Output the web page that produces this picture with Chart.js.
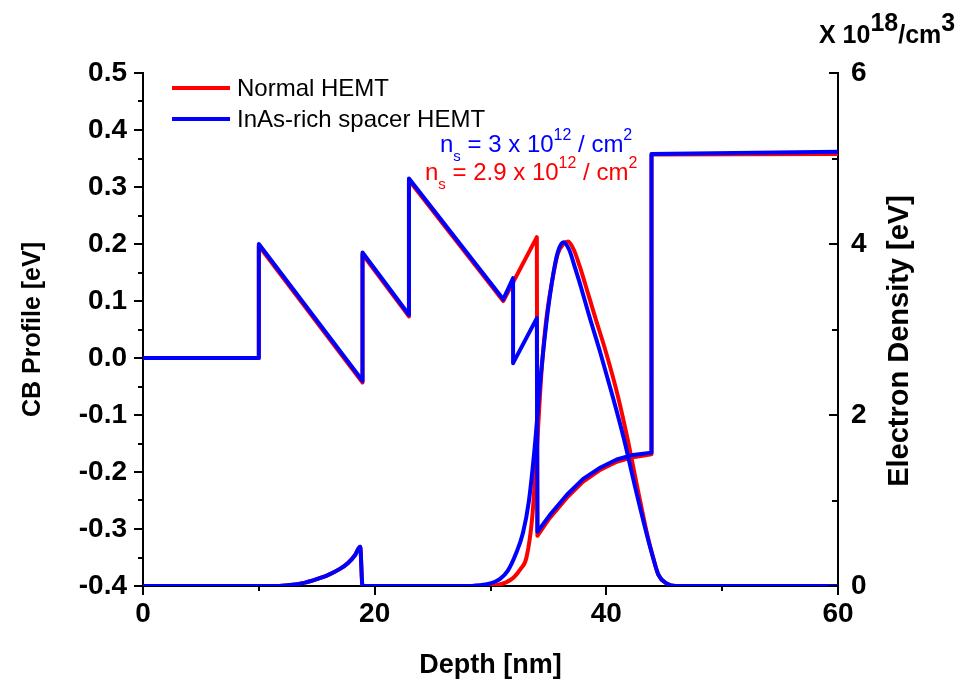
<!DOCTYPE html>
<html>
<head>
<meta charset="utf-8">
<title>CB profile and electron density</title>
<script src="https://cdn.jsdelivr.net/npm/chart.js@4.4.1/dist/chart.umd.min.js"></script>
<style>
  body { margin: 0; background: #fff; }
  #wrap { width: 960px; height: 683px; position: relative; }
</style>
</head>
<body>
<div id="wrap"><canvas id="bandChart"></canvas></div>
<script>
// --- Conduction band edge [eV], left axis ---
const cbDepthNormal = [0, 10, 10, 18.95, 18.95, 22.96, 22.96, 31.1, 34.0, 34.05, 35.1, 36.6, 38.0, 39.5, 40.9, 42.3, 43.9, 43.9, 60];
const cbNormal      = [0, 0, 0.197, -0.043, 0.182, 0.073, 0.312, 0.100, 0.212, -0.312, -0.281, -0.245, -0.217, -0.196, -0.182, -0.174, -0.169, 0.357, 0.358];

const cbDepthInAs = [0, 10, 10, 18.95, 18.95, 22.96, 22.96, 31.1, 31.95, 31.95, 34.0, 34.05, 35.1, 36.6, 38.0, 39.5, 40.9, 42.3, 43.9, 43.9, 60];
const cbInAs      = [0, 0, 0.2, -0.04, 0.185, 0.076, 0.315, 0.103, 0.14, -0.009, 0.07, -0.305, -0.276, -0.240, -0.212, -0.192, -0.178, -0.170, -0.166, 0.358, 0.362];

// --- Electron density [x 10^18 / cm^3], right axis ---
const nDepthNormal = [0, 11, 12.5, 14, 15, 16, 17, 17.7, 18.3, 18.75, 18.95,
    29.5, 30.5, 31.3, 32.0, 32.6, 33.1, 33.6, 34.0, 34.4, 34.8, 35.3, 35.8, 36.3, 36.7,
    37.2, 37.7, 38.2, 39.0, 40.0, 41.0, 41.8, 42.7, 43.5, 44.0, 44.5, 45.2, 46.0, 60];
const nNormal      = [0, 0, 0.01, 0.04, 0.08, 0.13, 0.2, 0.27, 0.36, 0.46, 0,
    0, 0.01, 0.04, 0.1, 0.2, 0.33, 0.8, 1.6, 2.5, 3.1, 3.55, 3.88, 4.0, 4.03,
    3.93, 3.74, 3.52, 3.16, 2.72, 2.22, 1.74, 1.14, 0.62, 0.35, 0.13, 0.03, 0, 0];

const nDepthInAs = [0, 11, 12.5, 14, 15, 16, 17, 17.7, 18.3, 18.75, 18.95,
    28.0, 29.0, 30.0, 30.8, 31.5, 32.2, 32.8, 33.3, 33.8, 34.3, 34.8, 35.3, 35.8, 36.3,
    36.8, 37.3, 37.8, 38.5, 39.5, 40.5, 41.5, 42.5, 43.5, 44.0, 44.5, 45.2, 46.0, 60];
const nInAs      = [0, 0, 0.01, 0.04, 0.08, 0.13, 0.2, 0.27, 0.36, 0.46, 0,
    0, 0.01, 0.03, 0.08, 0.18, 0.38, 0.62, 0.98, 1.6, 2.4, 3.05, 3.55, 3.9, 4.02,
    3.93, 3.72, 3.5, 3.17, 2.72, 2.24, 1.73, 1.15, 0.6, 0.35, 0.13, 0.03, 0, 0];

const seriesNames = ['Normal HEMT', 'InAs-rich spacer HEMT'];

const RED = '#ff0000';
const BLUE = '#0000ff';
const FAMILY = '"Liberation Sans", Arial, Helvetica, sans-serif';

const toPoints = (xs, ys) => xs.map((x, i) => ({ x: x, y: ys[i] }));

// draws a row of text pieces (for sub/superscripts) starting at x, baseline y
function drawRuns(ctx, x, y, runs, color, weight) {
    ctx.fillStyle = color;
    ctx.textAlign = 'left';
    ctx.textBaseline = 'alphabetic';
    runs.forEach(r => {
        ctx.font = `${weight} ${r.size}px ${FAMILY}`;
        ctx.fillText(r.text, x, y + (r.dy || 0));
        x += ctx.measureText(r.text).width;
    });
}

// tick marks, legend and the text labels that chart.js can't place itself
const axisDecor = {
    id: 'axisDecor',
    afterDraw(chart) {
        const { ctx, chartArea: a, scales } = chart;
        ctx.save();
        ctx.strokeStyle = '#000';
        ctx.lineWidth = 2;
        ctx.beginPath();
        // left axis: outward ticks, minor every 0.05
        for (let i = 0; i <= 18; i++) {
            const y = Math.round(scales.y.getPixelForValue(-0.4 + i * 0.05));
            const len = i % 2 === 0 ? 9 : 5;
            ctx.moveTo(a.left, y);
            ctx.lineTo(a.left - len, y);
        }
        // bottom axis: outward ticks, minor every 10 nm
        for (let i = 0; i <= 6; i++) {
            const x = Math.round(scales.x.getPixelForValue(i * 10));
            const len = i % 2 === 0 ? 9 : 5;
            ctx.moveTo(x, a.bottom);
            ctx.lineTo(x, a.bottom + len);
        }
        // right axis: inward ticks
        for (let i = 0; i <= 6; i++) {
            const y = Math.round(scales.y2.getPixelForValue(i));
            const len = i % 2 === 0 ? 9 : 6;
            ctx.moveTo(a.right, y);
            ctx.lineTo(a.right - len, y);
        }
        ctx.stroke();

        // legend
        ctx.lineWidth = 4;
        [[RED, 88], [BLUE, 119]].forEach(([c, y], i) => {
            ctx.strokeStyle = c;
            ctx.beginPath();
            ctx.moveTo(172, y);
            ctx.lineTo(230, y);
            ctx.stroke();
            ctx.fillStyle = '#000';
            ctx.font = `24px ${FAMILY}`;
            ctx.textBaseline = 'middle';
            ctx.textAlign = 'left';
            ctx.fillText(seriesNames[i], 237, y + 1);
        });

        // sheet densities
        drawRuns(ctx, 440, 152, [
            { text: 'n', size: 24 }, { text: 's', size: 15, dy: 9 },
            { text: ' = 3 x 10', size: 24 }, { text: '12', size: 16, dy: -12 },
            { text: ' / cm', size: 24 }, { text: '2', size: 16, dy: -12 }
        ], BLUE, 'normal');
        drawRuns(ctx, 425, 180, [
            { text: 'n', size: 24 }, { text: 's', size: 15, dy: 9 },
            { text: ' = 2.9 x 10', size: 24 }, { text: '12', size: 16, dy: -12 },
            { text: ' / cm', size: 24 }, { text: '2', size: 16, dy: -12 }
        ], RED, 'normal');

        // unit of the right axis
        drawRuns(ctx, 819, 43, [
            { text: 'X 10', size: 25 }, { text: '18', size: 25, dy: -12 },
            { text: '/cm', size: 25 }, { text: '3', size: 25, dy: -12 }
        ], '#000', 'bold');

        // right axis title, reading bottom to top
        ctx.translate(900, 341);
        ctx.rotate(-Math.PI / 2);
        ctx.fillStyle = '#000';
        ctx.font = `bold 29px ${FAMILY}`;
        ctx.textAlign = 'center';
        ctx.textBaseline = 'middle';
        ctx.fillText('Electron Density [eV]', 0, 0);
        ctx.restore();
    }
};

const tickFont = { family: FAMILY, size: 28, weight: 'bold' };
const axisBorder = { display: true, color: '#000', width: 2 };

new Chart(document.getElementById('bandChart'), {
    type: 'line',
    data: {
        datasets: [
            { label: seriesNames[0], data: toPoints(cbDepthNormal, cbNormal), yAxisID: 'y', borderColor: RED, tension: 0, order: 2 },
            { label: seriesNames[0], data: toPoints(nDepthNormal, nNormal), yAxisID: 'y2', borderColor: RED, cubicInterpolationMode: 'monotone', order: 2 },
            { label: seriesNames[1], data: toPoints(cbDepthInAs, cbInAs), yAxisID: 'y', borderColor: BLUE, tension: 0, order: 1 },
            { label: seriesNames[1], data: toPoints(nDepthInAs, nInAs), yAxisID: 'y2', borderColor: BLUE, cubicInterpolationMode: 'monotone', order: 1 }
        ]
    },
    options: {
        responsive: true,
        maintainAspectRatio: false,
        animation: false,
        layout: { padding: { top: 73, left: 0, right: 0, bottom: 0 } },
        elements: {
            point: { radius: 0 },
            line: { borderWidth: 4, fill: false, borderJoinStyle: 'round' }
        },
        plugins: { legend: { display: false }, tooltip: { enabled: false } },
        scales: {
            x: {
                type: 'linear', min: 0, max: 60,
                ticks: { stepSize: 20, padding: 3, color: '#000', font: tickFont, maxRotation: 0 },
                grid: { display: false },
                border: axisBorder,
                title: { display: true, text: 'Depth [nm]', color: '#000', font: { family: FAMILY, size: 27, weight: 'bold' }, padding: { top: 0, bottom: 1 } },
                afterFit: s => { s.height = 97; }
            },
            y: {
                position: 'left', min: -0.4, max: 0.5,
                ticks: { stepSize: 0.1, padding: 8, color: '#000', font: tickFont, callback: v => v.toFixed(1) },
                grid: { display: false },
                border: axisBorder,
                title: { display: true, text: 'CB Profile [eV]', color: '#000', font: { family: FAMILY, size: 25, weight: 'bold' }, padding: { top: 18, bottom: 0 } },
                afterFit: s => { s.width = 143; }
            },
            y2: {
                position: 'right', min: 0, max: 6,
                ticks: { stepSize: 2, padding: 5, color: '#000', font: tickFont },
                grid: { display: false },
                border: axisBorder,
                afterFit: s => { s.width = 122; }
            }
        }
    },
    plugins: [axisDecor]
});
</script>
</body>
</html>
